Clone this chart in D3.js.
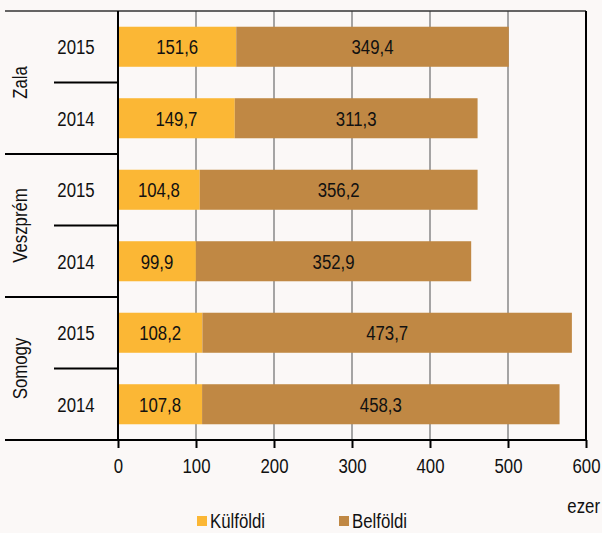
<!DOCTYPE html>
<html>
<head>
<meta charset="utf-8" />
<script src="https://d3js.org/d3.v7.min.js"></script>
<style>
  body { margin: 0; background: #fbf8f7; }
  text { font-family: "Liberation Sans Narrow", "Arial Narrow", "Liberation Sans", sans-serif; fill: #111; }
</style>
</head>
<body>
<div id="chart"></div>
<script>
// data (thousands)
var counties = ["Zala", "Veszprém", "Somogy"];
var years = ["2015", "2014"];
var kulfoldi = [151.6, 149.7, 104.8, 99.9, 108.2, 107.8];
var belfoldi = [349.4, 311.3, 356.2, 352.9, 473.7, 458.3];
var xTicks = [0, 100, 200, 300, 400, 500, 600];
var seriesNames = ["Külföldi", "Belföldi"];
var colors = ["#fbb735", "#c08844"];

var width = 602, height = 533;
var plotL = 118, plotR = 586, plotT = 11, plotB = 440;
var fs = "21px", squeeze = "scale(0.8,1)";   // imitate a narrow font

var rows = [];
counties.forEach(function(c, ci) {
  years.forEach(function(yr, yi) {
    var i = ci * 2 + yi;
    rows.push({key: c + yr, county: c, year: yr, k: kulfoldi[i], b: belfoldi[i]});
  });
});

var x = d3.scaleLinear().domain([0, 600]).range([plotL, plotR]);
var y = d3.scaleBand().domain(rows.map(function(d) { return d.key; }))
  .range([plotT, plotB]).paddingInner(0.44).paddingOuter(0.22);
var step = y.step();

var svg = d3.select("#chart").append("svg")
  .attr("width", width).attr("height", height);

function label(sel, px, py, txt, anchor, rot) {
  return sel.append("text")
    .attr("transform", "translate(" + px + "," + py + ")" + (rot ? " rotate(" + rot + ")" : "") + " " + squeeze)
    .attr("dy", "0.35em").attr("text-anchor", anchor || "middle")
    .style("font-size", fs).text(txt);
}

// gridlines
svg.append("g").selectAll("line").data(xTicks.slice(1, -1)).enter().append("line")
  .attr("x1", function(d) { return x(d); }).attr("x2", function(d) { return x(d); })
  .attr("y1", plotT).attr("y2", plotB)
  .style("stroke", "#888").style("stroke-width", 1.5);

// bars
var bars = svg.append("g");
bars.selectAll(".k").data(rows).enter().append("rect")
  .attr("x", x(0)).attr("y", function(d) { return y(d.key); })
  .attr("width", function(d) { return x(d.k) - x(0); })
  .attr("height", y.bandwidth()).style("fill", colors[0]);
bars.selectAll(".b").data(rows).enter().append("rect")
  .attr("x", function(d) { return x(d.k); }).attr("y", function(d) { return y(d.key); })
  .attr("width", function(d) { return x(d.k + d.b) - x(d.k); })
  .attr("height", y.bandwidth()).style("fill", colors[1]);

function fmt(v) { return v.toFixed(1).replace(".", ","); }
rows.forEach(function(d) {
  var cy = y(d.key) + y.bandwidth() / 2;
  label(bars, (x(0) + x(d.k)) / 2, cy, fmt(d.k));
  label(bars, (x(d.k) + x(d.k + d.b)) / 2, cy, fmt(d.b));
});

// frame: top and right
svg.append("line").attr("x1", 5).attr("x2", plotR).attr("y1", plotT).attr("y2", plotT)
  .style("stroke", "#333").style("stroke-width", 1.5);
svg.append("line").attr("x1", plotR).attr("x2", plotR).attr("y1", plotT).attr("y2", plotB)
  .style("stroke", "#000").style("stroke-width", 2);

// x axis
var xAxis = d3.axisBottom(x).tickValues(xTicks).tickSize(8).tickPadding(0);
var ax = svg.append("g").attr("transform", "translate(0," + plotB + ")").call(xAxis);
ax.select(".domain").remove();
ax.selectAll(".tick line").style("stroke", "#000").style("stroke-width", 2);
ax.selectAll(".tick text").attr("y", 26).attr("dy", "0.35em")
  .attr("transform", squeeze).style("font-size", fs).style("fill", "#111")
  .style("font-family", "'Liberation Sans Narrow', 'Arial Narrow', 'Liberation Sans', sans-serif");
svg.append("line").attr("x1", 5).attr("x2", plotR + 1).attr("y1", plotB).attr("y2", plotB)
  .style("stroke", "#000").style("stroke-width", 2);
svg.append("line").attr("x1", plotL).attr("x2", plotL).attr("y1", plotT).attr("y2", plotB)
  .style("stroke", "#000").style("stroke-width", 2);

// category table on the left
rows.forEach(function(d) {
  label(svg, 76, y(d.key) + y.bandwidth() / 2, d.year);
});
counties.forEach(function(c, ci) {
  var y0 = plotT + ci * 2 * step;
  var cy = y0 + step;
  label(svg, 20, cy, c, "middle", -90);
  // separator between years
  svg.append("line").attr("x1", 54).attr("x2", plotL).attr("y1", cy).attr("y2", cy)
    .style("stroke", "#000").style("stroke-width", 2);
  if (ci > 0) {
    svg.append("line").attr("x1", 5).attr("x2", plotL).attr("y1", y0).attr("y2", y0)
      .style("stroke", "#000").style("stroke-width", 2);
  }
});

// unit
label(svg, 600, 506, "ezer", "end");

// legend
var legX = [197, 339];
seriesNames.forEach(function(s, i) {
  svg.append("rect").attr("x", legX[i]).attr("y", 516).attr("width", 10).attr("height", 10)
    .style("fill", colors[i]);
  label(svg, legX[i] + 13, 521, s, "start");
});
</script>
</body>
</html>
